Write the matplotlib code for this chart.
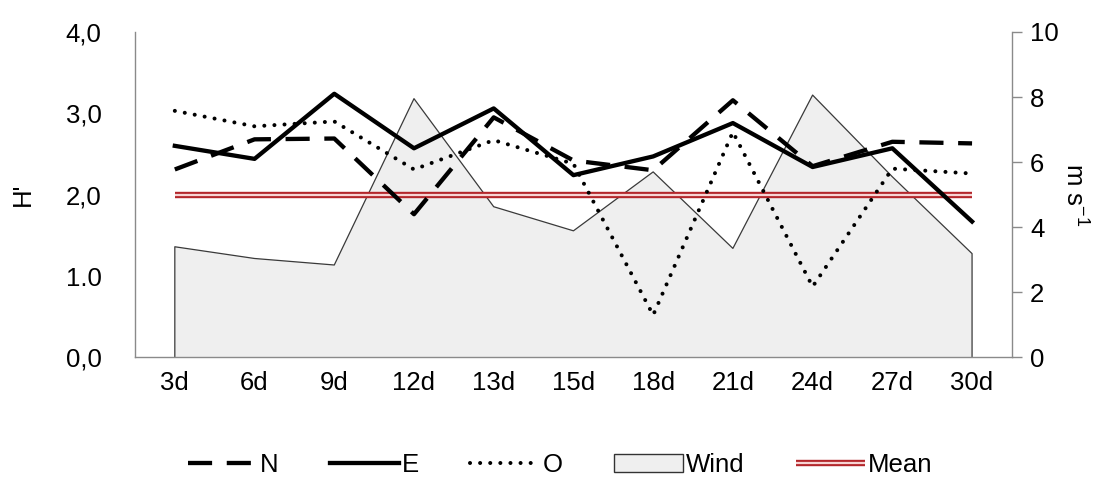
import matplotlib
matplotlib.use("Agg")
import matplotlib.pyplot as plt
from matplotlib.patches import Patch
from matplotlib.legend_handler import HandlerTuple

plt.rcParams["font.family"] = ["Liberation Sans", "DejaVu Sans"]
plt.rcParams["axes.unicode_minus"] = False

days = ["3d", "6d", "9d", "12d", "13d", "15d", "18d", "21d", "24d", "27d", "30d"]
n_vals = [2.31, 2.68, 2.69, 1.76, 2.95, 2.42, 2.30, 3.16, 2.35, 2.65, 2.63]
e_vals = [2.60, 2.44, 3.24, 2.57, 3.06, 2.24, 2.47, 2.88, 2.34, 2.57, 1.67]
o_vals = [3.03, 2.84, 2.90, 2.31, 2.67, 2.38, 0.52, 2.77, 0.87, 2.32, 2.26]
wind_vals = [3.40, 3.04, 2.84, 7.95, 4.63, 3.89, 5.70, 3.35, 8.06, 5.55, 3.19]
mean_val = 2.0

left_ticks = [0, 1, 2, 3, 4]
left_ticklabels = ["0,0", "1.0", "2,0", "3,0", "4,0"]
right_ticks = [0, 2, 4, 6, 8, 10]

FS = 18.5
spine_col = "#8a8a8a"

fig = plt.figure(figsize=(11.2, 4.91), dpi=100)
ax = fig.add_axes([0.1205, 0.272, 0.783, 0.663])
ax2 = ax.twinx()

x = list(range(len(days)))

# Wind speed as a filled area on the right axis
ax2.fill_between(x, 0, wind_vals, facecolor="#efefef", edgecolor="none", zorder=1)
ax2.plot([x[0]] + x + [x[-1]], [0] + wind_vals + [0], color="#3a3a3a", lw=0.9, zorder=2)
ax2.set_ylim(0, 10)
ax2.set_yticks(right_ticks)
ax2.tick_params(axis="y", direction="out", length=7, width=1, color=spine_col,
                labelsize=FS, pad=6)
ax2.set_ylabel("m s$^{\\mathregular{-1}}$", rotation=270, fontsize=FS, labelpad=22)

# Diversity lines drawn on the left axis, above the wind area
ax.set_zorder(ax2.get_zorder() + 1)
ax.patch.set_visible(False)

mean_outer, = ax.plot(x, [mean_val] * len(x), color="#b3262b", lw=4.6, zorder=3,
                      solid_capstyle="butt")
mean_inner, = ax.plot(x, [mean_val] * len(x), color="#f7d4d4", lw=1.6, zorder=3.1,
                      solid_capstyle="butt")
line_n, = ax.plot(x, n_vals, color="black", lw=3.1, dashes=(5.6, 3.4), zorder=4)
line_e, = ax.plot(x, e_vals, color="black", lw=3.1, zorder=5)
line_o, = ax.plot(x, o_vals, color="black", lw=2.9, dashes=(0.01, 2.5),
                  dash_capstyle="round", zorder=4)

ax.set_xlim(-0.5, len(days) - 0.5)
ax.set_ylim(0, 4)
ax.set_yticks(left_ticks)
ax.set_yticklabels(left_ticklabels)
ax.tick_params(axis="y", length=0, labelsize=FS, pad=24)
ax.set_xticks(x)
ax.set_xticklabels(days)
ax.tick_params(axis="x", length=0, labelsize=FS, pad=10)
ax.set_ylabel("H'", fontsize=FS, labelpad=22)

for a in (ax, ax2):
    a.spines["top"].set_visible(False)
    for s in ("left", "right", "bottom"):
        a.spines[s].set_color(spine_col)
        a.spines[s].set_linewidth(1)
ax.spines["right"].set_visible(False)
ax2.spines["left"].set_visible(False)
ax2.spines["bottom"].set_visible(False)

wind_patch = Patch(facecolor="#efefef", edgecolor="#333333", lw=1)
handles = [line_n, line_e, line_o, wind_patch, (mean_outer, mean_inner)]
labels = ["N", "E", "O", "Wind", "Mean"]
fig.legend(handles, labels, loc="center", bbox_to_anchor=(0.5, 0.052), ncol=5,
           frameon=False, fontsize=FS, handlelength=2.7, handletextpad=0.1,
           columnspacing=2.0, handler_map={tuple: HandlerTuple(ndivide=1, pad=0)})

fig.savefig("out.png", dpi=100)
